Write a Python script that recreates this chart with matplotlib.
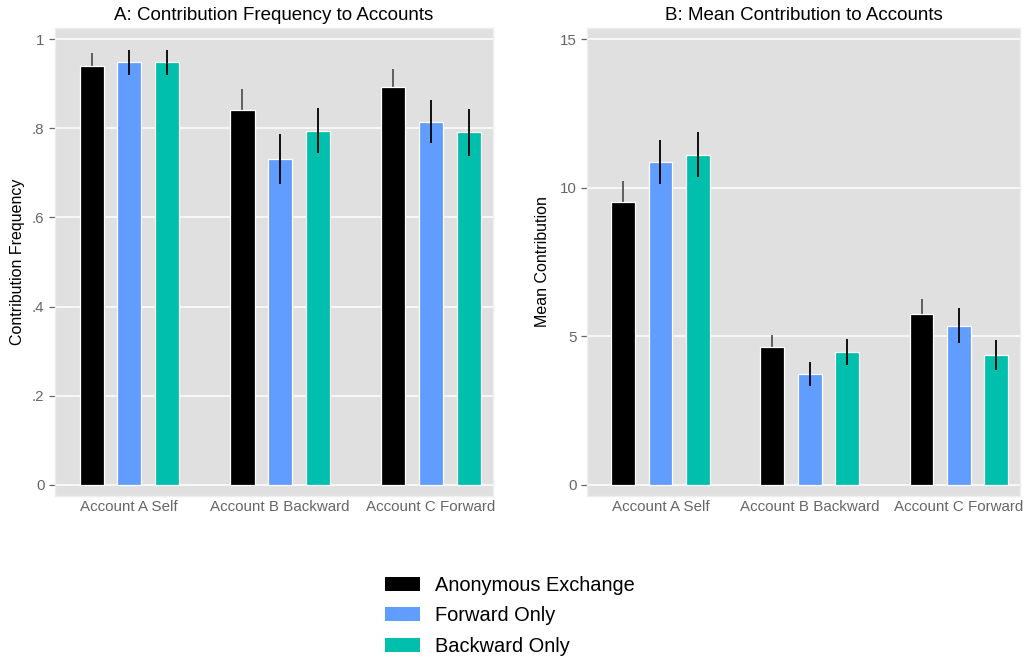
import numpy as np
import matplotlib
matplotlib.use("Agg")
import matplotlib.pyplot as plt
from matplotlib.patches import Patch

plt.rcParams['font.family'] = ['Liberation Sans', 'DejaVu Sans']

accounts = ["Account A Self", "Account B Backward", "Account C Forward"]
treatments = ["Anonymous Exchange", "Forward Only", "Backward Only"]
colors = ["#000000", "#619cff", "#00bfad"]
err_colors = ["#555555", "#000000", "#000000"]
err_z = [2, 4, 4]

# Panel A: contribution frequency (rows = treatments, cols = accounts)
freq_mean = [
    [0.939, 0.841, 0.892],
    [0.948, 0.731, 0.815],
    [0.948, 0.795, 0.791],
]
freq_err = [
    [0.031, 0.047, 0.041],
    [0.028, 0.056, 0.049],
    [0.028, 0.051, 0.052],
]

# Panel B: mean contribution
contrib_mean = [
    [9.53, 4.65, 5.74],
    [10.86, 3.73, 5.36],
    [11.11, 4.48, 4.36],
]
contrib_err = [
    [0.71, 0.38, 0.52],
    [0.75, 0.39, 0.58],
    [0.76, 0.44, 0.50],
]

freq_ticks = [0, 0.2, 0.4, 0.6, 0.8, 1.0]
freq_ticklabels = ["0", ".2", ".4", ".6", ".8", "1"]
contrib_ticks = [0, 5, 10, 15]
contrib_ticklabels = ["0", "5", "10", "15"]

fig = plt.figure(figsize=(10.24, 6.6), dpi=100)
axA = fig.add_axes([0.0537, 0.2485, 0.4277, 0.709])
axB = fig.add_axes([0.5732, 0.2485, 0.4229, 0.709])

bar_w = 0.64
group_gap = 4


def draw_panel(ax, means, errs, ticks, ticklabels, ymax, title, ylabel, lab_x):
    ax.set_facecolor("#e0e0e0")
    for j in range(len(treatments)):
        xs = np.arange(len(accounts)) * group_gap + j
        ax.bar(xs, means[j], width=bar_w, color=colors[j],
               edgecolor="white", linewidth=0.9, zorder=3)
        ax.errorbar(xs, means[j], yerr=errs[j], fmt="none",
                    ecolor=err_colors[j], elinewidth=1.3, capsize=0,
                    zorder=err_z[j])
    ax.set_xlim(-0.97, 10.64)
    pad = ymax * 0.025
    ax.set_ylim(-pad, ymax + pad)
    ax.set_yticks(ticks)
    ax.set_yticklabels(ticklabels)
    ax.set_xticks(np.arange(len(accounts)) * group_gap + 1)
    ax.set_xticklabels(accounts)
    ax.yaxis.grid(True, color="white", linewidth=1.1, zorder=0)
    ax.set_axisbelow(True)
    ax.tick_params(axis="y", length=4.5, width=0.9, color="#666666",
                   labelcolor="#666666", labelsize=10.9, pad=3)
    ax.tick_params(axis="x", length=0, labelcolor="#666666",
                   labelsize=10.9, pad=3)
    for s in ax.spines.values():
        s.set_color("#eeeeee")
        s.set_linewidth(1.0)
    ax.set_title(title, fontsize=13.5, pad=6)
    ax.set_ylabel(ylabel, fontsize=11.5)
    ax.yaxis.set_label_coords(lab_x, 0.5)


draw_panel(axA, freq_mean, freq_err, freq_ticks, freq_ticklabels, 1.0,
           "A: Contribution Frequency to Accounts", "Contribution Frequency",
           -0.068)
draw_panel(axB, contrib_mean, contrib_err, contrib_ticks, contrib_ticklabels,
           15.0, "B: Mean Contribution to Accounts", "Mean Contribution",
           -0.085)

handles = [Patch(facecolor=c, edgecolor="none") for c in colors]
fig.legend(handles, treatments, loc="center", bbox_to_anchor=(0.4975, 0.0667),
           frameon=False, fontsize=14.4, handlelength=1.75, handleheight=0.7,
           handletextpad=0.75, labelspacing=0.56)

fig.savefig("out.png", dpi=100)
